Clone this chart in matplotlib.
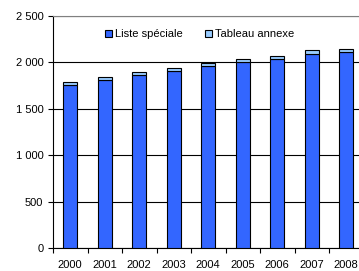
import matplotlib
matplotlib.use("Agg")
import matplotlib.pyplot as plt
import numpy as np
from matplotlib.ticker import FuncFormatter, FixedLocator

years = ["2000", "2001", "2002", "2003", "2004", "2005", "2006", "2007", "2008"]
liste_speciale = [1755, 1808, 1860, 1905, 1960, 2003, 2035, 2087, 2113]
tableau_annexe = [30, 33, 32, 30, 32, 33, 33, 42, 34]

plt.rcParams['font.family'] = ['Liberation Sans', 'DejaVu Sans']

W, H = 359, 271
fig = plt.figure(figsize=(W/100, H/100), dpi=100)
ax = fig.add_axes([53/W, 1-248/H, (363.5-53)/W, (248-16)/H])

x = np.arange(len(years))
w = 0.4
ax.bar(x, liste_speciale, w, color='#3366FF', edgecolor='black', linewidth=0.8,
       label='Liste spéciale', zorder=3)
ax.bar(x, tableau_annexe, w, bottom=liste_speciale, color='#99CCFF',
       edgecolor='black', linewidth=0.8, label='Tableau annexe', zorder=3)

ax.set_xlim(-0.5, len(years) - 0.5)
ax.set_ylim(0, 2500)
ax.set_yticks([0, 500, 1000, 1500, 2000, 2500])
ax.yaxis.set_major_formatter(FuncFormatter(lambda v, p: f"{int(v):,}".replace(",", " ")))
ax.yaxis.grid(True, color='black', linewidth=0.8, zorder=0)
ax.set_axisbelow(True)

ax.set_xticks(x)
ax.set_xticklabels(years)
ax.tick_params(axis='x', which='major', length=0, labelsize=8, pad=9)
ax.xaxis.set_minor_locator(FixedLocator(np.arange(-0.5, len(years), 1.0)))
ax.tick_params(axis='x', which='minor', length=3.5, width=0.8, direction='out')
ax.tick_params(axis='y', length=3.5, width=0.8, labelsize=8, pad=3.5)

ax.spines['top'].set_color('#808080')
ax.spines['right'].set_visible(False)
ax.spines['left'].set_linewidth(0.8)
ax.spines['bottom'].set_linewidth(0.8)

leg = fig.legend(*ax.get_legend_handles_labels(), loc='center left',
                 bbox_to_anchor=(105/W, 1-34.5/H), ncol=2, frameon=False,
                 fontsize=8, handlelength=0.63, handleheight=0.63, handletextpad=0.27,
                 columnspacing=2.0, borderpad=0, borderaxespad=0)

fig.savefig("out.png", dpi=100)
